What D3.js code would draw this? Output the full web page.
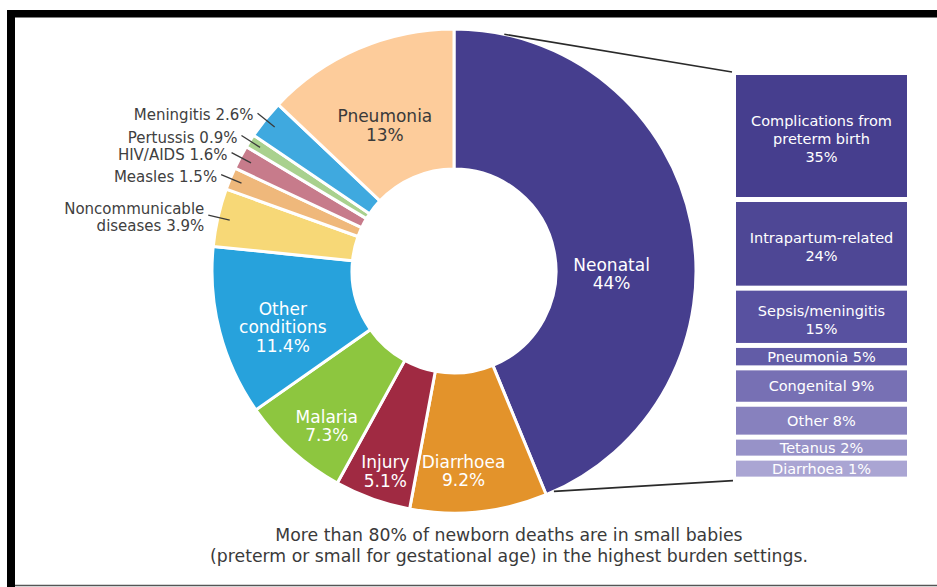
<!DOCTYPE html>
<html>
<head>
<meta charset="utf-8">
<script src="https://cdn.jsdelivr.net/npm/d3@7"></script>
<style>
  html, body { margin: 0; padding: 0; background: #fff; }
  svg { display: block; font-family: "DejaVu Sans", sans-serif; }
</style>
</head>
<body>
<svg id="chart" width="937" height="587"></svg>
<script>
// ---------- DATA ----------
const causes = ["Neonatal", "Diarrhoea", "Injury", "Malaria", "Other conditions",
  "Noncommunicable diseases", "Measles", "HIV/AIDS", "Pertussis", "Meningitis", "Pneumonia"];
const shares = [44, 9.2, 5.1, 7.3, 11.4, 3.9, 1.5, 1.6, 0.9, 2.6, 13];
const causeLabelLines = [["Neonatal"], ["Diarrhoea"], ["Injury"], ["Malaria"], ["Other", "conditions"],
  ["Noncommunicable", "diseases"], ["Measles"], ["HIV/AIDS"], ["Pertussis"], ["Meningitis"], ["Pneumonia"]];
const outsideLabelled = ["Noncommunicable diseases", "Measles", "HIV/AIDS", "Pertussis", "Meningitis"];

const neonatalCauses = ["Complications from preterm birth", "Intrapartum-related", "Sepsis/meningitis",
  "Pneumonia", "Congenital", "Other", "Tetanus", "Diarrhoea"];
const neonatalShares = [35, 24, 15, 5, 9, 8, 2, 1];
const neonatalLabelLines = [["Complications from", "preterm birth"], ["Intrapartum-related"], ["Sepsis/meningitis"],
  ["Pneumonia"], ["Congenital"], ["Other"], ["Tetanus"], ["Diarrhoea"]];
const neonatalPctOnNewLine = [true, true, true, false, false, false, false, false];

const captionLines = ["More than 80% of newborn deaths are in small babies",
  "(preterm or small for gestational age) in the highest burden settings."];

// ---------- STYLE / LAYOUT ----------
const sliceColors = ["#463e8e", "#e3932b", "#a02a42", "#8dc63f", "#27a2dc",
  "#f7d877", "#efb87b", "#c77b8b", "#a9d18e", "#3fa9df", "#fdcc9b"];
const sliceTextColors = {"Pneumonia": "#3a3a3a"};
const boxColors = ["#463e8e", "#4e4795", "#5851a0", "#625ca7", "#7770b4", "#8781be", "#9792c8", "#aaa5d3"];
const labelNudge = {
  "Neonatal": [-19, 38], "Diarrhoea": [-9, 21], "Injury": [-8, 31],
  "Malaria": [-7, 21], "Other conditions": [3, 11], "Pneumonia": [2, 20]
};

const W = 937, H = 587;
const cx = 454, cy = 271, R = 242, r0 = 102;
const svg = d3.select("#chart");
const fmt = v => `${v}%`;

// Frame
svg.append("rect").attr("x", 7).attr("y", 10).attr("width", W - 7).attr("height", 7.5).attr("fill", "#000");
svg.append("rect").attr("x", 7).attr("y", 10).attr("width", 8).attr("height", H - 10).attr("fill", "#000");
svg.append("line").attr("x1", 15).attr("x2", W).attr("y1", 585.5).attr("y2", 585.5)
  .attr("stroke", "#555").attr("stroke-width", 1.5);

// ---------- PIE ----------
const data = causes.map((c, i) => ({cause: c, value: shares[i], lines: causeLabelLines[i], color: sliceColors[i]}));
const pie = d3.pie().value(d => d.value).sort(null);
const arcs = pie(data);
const arc = d3.arc().innerRadius(r0).outerRadius(R);
const labelArc = d3.arc().innerRadius(180).outerRadius(180);

const g = svg.append("g").attr("transform", `translate(${cx},${cy})`);
g.selectAll("path.slice").data(arcs).enter().append("path")
  .attr("class", "slice")
  .attr("d", arc)
  .attr("fill", d => d.data.color)
  .attr("stroke", "#fff").attr("stroke-width", 3).attr("stroke-linejoin", "miter");

// Inside labels
arcs.filter(a => !outsideLabelled.includes(a.data.cause)).forEach(a => {
  const [x, y] = labelArc.centroid(a);
  const n = labelNudge[a.data.cause] || [0, 0];
  const lines = a.data.lines.concat([fmt(a.data.value)]);
  const lh = 18.5;
  const y0 = y + n[1] - (lines.length - 1) * lh / 2;
  const t = g.append("text")
    .attr("text-anchor", "middle")
    .attr("font-size", 17)
    .attr("fill", sliceTextColors[a.data.cause] || "#fff");
  lines.forEach((ln, i) => {
    t.append("tspan").attr("x", x + n[0]).attr("y", y0 + i * lh)
      .attr("dominant-baseline", "central").text(ln);
  });
});

// Outside labels with leader lines
const pt = (ang, r) => [Math.sin(ang) * r, -Math.cos(ang) * r];
arcs.filter(a => outsideLabelled.includes(a.data.cause)).forEach(a => {
  const mid = (a.startAngle + a.endAngle) / 2;
  const p1 = pt(mid, 230), p2 = pt(mid, 252);
  g.append("line").attr("x1", p1[0]).attr("y1", p1[1]).attr("x2", p2[0]).attr("y2", p2[1])
    .attr("stroke", "#3a3a3a").attr("stroke-width", 1.3);
  const lines = a.data.lines.slice();
  lines[lines.length - 1] = lines[lines.length - 1] + " " + fmt(a.data.value);
  const lh = 17;
  const y0 = p2[1] + 2 - (lines.length - 1) * lh / 2;
  const t = g.append("text").attr("text-anchor", "end").attr("font-size", 15).attr("fill", "#404040");
  lines.forEach((ln, i) => {
    t.append("tspan").attr("x", p2[0] - 4).attr("y", y0 + i * lh)
      .attr("dominant-baseline", "central").text(ln);
  });
});

// ---------- NEONATAL BREAKDOWN BOXES ----------
const boxX = 736, boxW = 171, boxTop = 75, gap = 5;
const hScale = d3.scaleLinear().domain([0, d3.max(neonatalShares)]).range([0, 122]);
let yCursor = boxTop;
const boxes = neonatalCauses.map((c, i) => {
  const h = Math.max(16, hScale(neonatalShares[i]));
  const b = {cause: c, value: neonatalShares[i], y: yCursor, h: h, color: boxColors[i],
    lines: neonatalPctOnNewLine[i] ? neonatalLabelLines[i].concat([fmt(neonatalShares[i])])
      : [neonatalLabelLines[i].join(" ") + " " + fmt(neonatalShares[i])]};
  yCursor += h + gap;
  return b;
});
const boxBottom = boxes[boxes.length - 1].y + boxes[boxes.length - 1].h;

svg.selectAll("rect.box").data(boxes).enter().append("rect")
  .attr("class", "box")
  .attr("x", boxX).attr("y", d => d.y).attr("width", boxW).attr("height", d => d.h)
  .attr("fill", d => d.color);

boxes.forEach(b => {
  const lh = 18;
  const cyb = b.y + b.h / 2 + (b.lines.length > 1 ? 3 : 0);
  const y0 = cyb - (b.lines.length - 1) * lh / 2;
  const t = svg.append("text").attr("text-anchor", "middle").attr("font-size", 14.5).attr("fill", "#fff");
  b.lines.forEach((ln, i) => {
    t.append("tspan").attr("x", boxX + boxW / 2).attr("y", y0 + i * lh)
      .attr("dominant-baseline", "central").text(ln);
  });
});

// Connector lines from neonatal slice to the boxes
const neo = arcs[0];
const a1 = pt(neo.startAngle + 12 * Math.PI / 180, R);
const a2 = pt(neo.endAngle - 2 * Math.PI / 180, R);
svg.append("line").attr("x1", cx + a1[0]).attr("y1", cy + a1[1]).attr("x2", boxX - 4).attr("y2", boxTop - 3)
  .attr("stroke", "#2a2a2a").attr("stroke-width", 1.6);
svg.append("line").attr("x1", cx + a2[0]).attr("y1", cy + a2[1]).attr("x2", boxX - 3).attr("y2", boxBottom + 4)
  .attr("stroke", "#2a2a2a").attr("stroke-width", 1.6);

// ---------- CAPTION ----------
const cap = svg.append("text").attr("text-anchor", "middle").attr("font-size", 17.3).attr("fill", "#3a3a3a");
captionLines.forEach((ln, i) => {
  cap.append("tspan").attr("x", 509).attr("y", 535 + i * 21).attr("dominant-baseline", "central").text(ln);
});
</script>
</body>
</html>
